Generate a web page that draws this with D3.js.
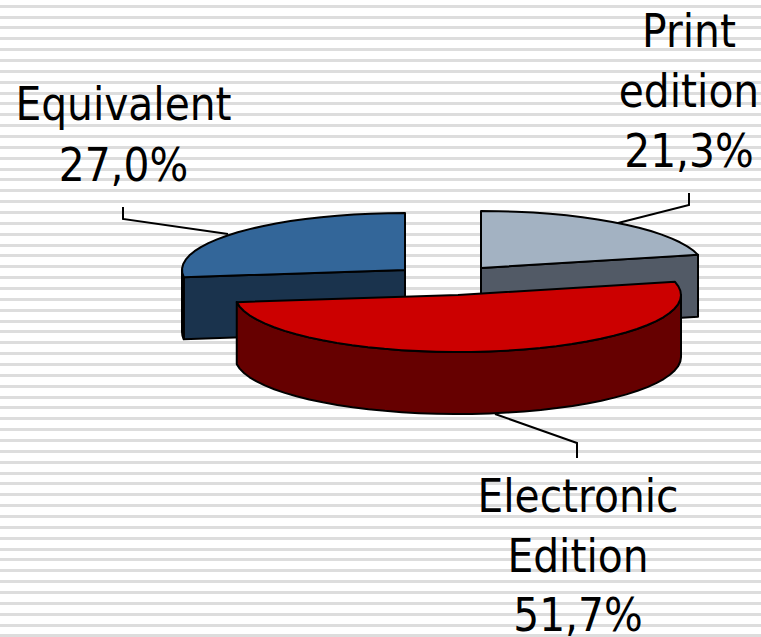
<!DOCTYPE html>
<html>
<head>
<meta charset="utf-8">
<style>
  html, body { margin: 0; padding: 0; background: #fff; }
  svg { display: block; }
  text { font-family: "DejaVu Sans", sans-serif; font-size: 40.8px; fill: #000; }
</style>
<script src="https://cdn.jsdelivr.net/npm/d3@7"></script>
</head>
<body>
<div id="chart"></div>
<script>
const categories = ['Print edition', 'Electronic Edition', 'Equivalent'];
const shares = [21.3, 51.7, 27.0];
const valueLabels = ['21,3%', '51,7%', '27,0%'];
const labelLines = [['Print', 'edition'], ['Electronic', 'Edition'], ['Equivalent']];
const topColors = ['#a3b2c2', '#cc0000', '#336699'];
const sideColors = ['#525a66', '#660000', '#1a334d'];

const width = 761, height = 637;
const rx = 223, ry = 57, depth = 62;

// centre of each exploded slice
const centers = [[481, 268], [458, 295], [405, 270]];
// label placement: anchor x and first baseline
const labelPos = [[689, 47], [578, 512], [123.5, 120]];
const lineSteps = [60, 59.5, 61];
const leaders = [
  [[689, 193], [689, 205], [618, 223]],
  [[577, 458], [577, 443], [495, 414]],
  [[123, 207], [123, 219], [228, 234]]
];

const svg = d3.select('#chart').append('svg')
  .attr('width', width)
  .attr('height', height);

// striped slide background
svg.append('g').selectAll('rect')
  .data(d3.range(6, height + 6, 10.857))
  .enter()
  .append('rect')
  .attr('x', 0)
  .attr('width', width)
  .attr('y', d => Math.round(d - 1.3))
  .attr('height', 3)
  .attr('fill', '#dddddd');

const pie = d3.pie().sort(null).value(d => d);
const slices = pie(shares);

const px = (i, a) => centers[i][0] + rx * Math.sin(a);
const py = (i, a) => centers[i][1] - ry * Math.cos(a);
const line = d3.line().curve(d3.curveLinear);

// a bit coarse on purpose, the original outline is a polygon too
function arcPoints(i, a0, a1, dy = 0) {
  const n = Math.max(2, Math.ceil((a1 - a0) / 0.08));
  return d3.range(n + 1).map(k => {
    const a = a0 + (a1 - a0) * k / n;
    return [px(i, a), py(i, a) + dy];
  });
}

const FRONT_A = Math.PI / 2, FRONT_B = Math.PI * 1.5;

function drawSlice(i) {
  const s = slices[i];
  const g = svg.append('g').attr('class', 'slice').attr('data-name', categories[i]);
  const style = sel => sel
    .attr('stroke', '#000')
    .attr('stroke-width', 2)
    .attr('stroke-linejoin', 'round');
  const c = centers[i];

  // cut face along the end edge of the slice, when it looks to the viewer
  const endX = px(i, s.endAngle), endY = py(i, s.endAngle);
  const startX = px(i, s.startAngle), startY = py(i, s.startAngle);
  if (i === 0) {
    g.append('path')
      .attr('d', line([c, [endX, endY], [endX, endY + depth], [c[0], c[1] + depth]]) + 'Z')
      .attr('fill', sideColors[i]).call(style);
  }
  if (i === 2) {
    g.append('path')
      .attr('d', line([c, [startX, startY], [startX, startY + depth], [c[0], c[1] + depth]]) + 'Z')
      .attr('fill', sideColors[i]).call(style);
  }

  // outer rim, only the part facing front
  const a0 = Math.max(s.startAngle, FRONT_A), a1 = Math.min(s.endAngle, FRONT_B);
  if (a1 > a0) {
    const rim = arcPoints(i, a0, a1).concat(arcPoints(i, a0, a1, depth).reverse());
    g.append('path')
      .attr('d', line(rim) + 'Z')
      .attr('fill', sideColors[i]).call(style);
  }

  // top face
  const top = [c].concat(arcPoints(i, s.startAngle, s.endAngle));
  g.append('path')
    .attr('d', line(top) + 'Z')
    .attr('fill', topColors[i]).call(style);
}

// back slices first, the red one sits in front
[2, 0, 1].forEach(drawSlice);

// leader lines
svg.append('g').selectAll('path')
  .data(leaders)
  .enter()
  .append('path')
  .attr('d', d => line(d))
  .attr('fill', 'none')
  .attr('stroke', '#000')
  .attr('stroke-width', 2);

// labels, the original type is stretched vertically
const stretch = 1.13;
labelLines.forEach((lines, i) => {
  lines.concat(valueLabels[i]).forEach((str, k) => {
    svg.append('text')
      .attr('text-anchor', 'middle')
      .attr('transform', `translate(${labelPos[i][0]},${labelPos[i][1] + k * lineSteps[i]}) scale(1,${stretch})`)
      .text(str);
  });
});
</script>
</body>
</html>
